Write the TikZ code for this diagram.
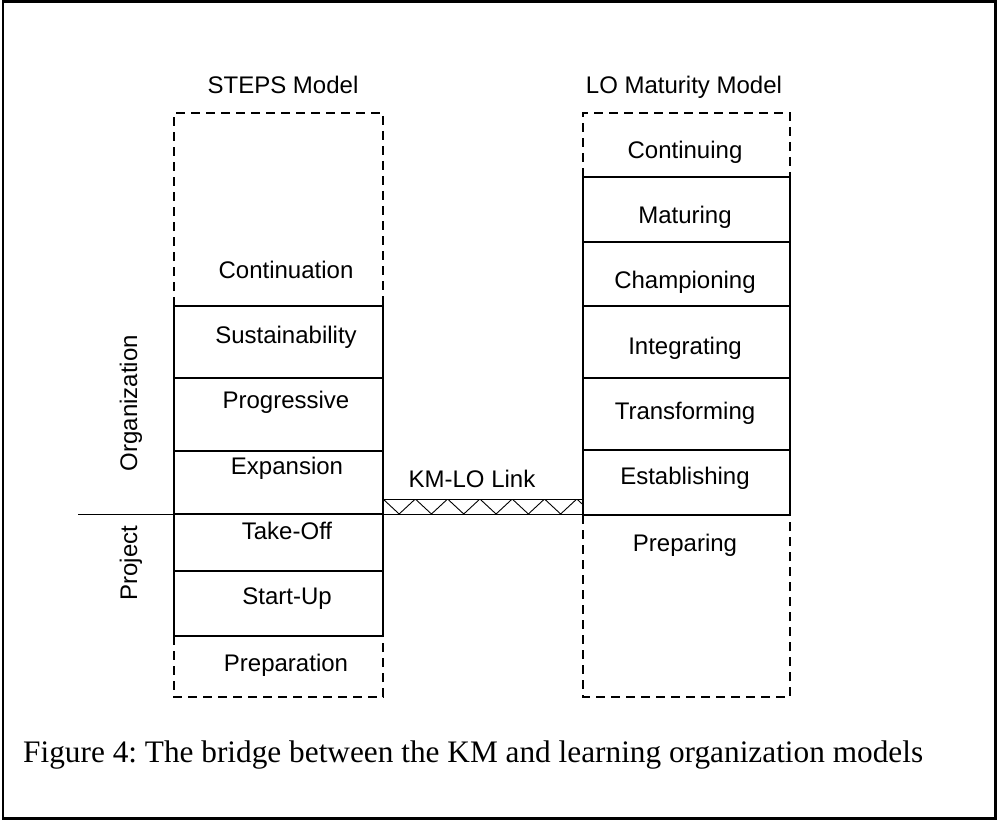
\documentclass[tikz,border=0pt]{standalone}
\usepackage{fontspec}
\setmainfont{Liberation Serif}
\setsansfont{Liberation Sans}
\frenchspacing
\begin{document}
\begin{tikzpicture}[x=1pt,y=-1pt,
  lbl/.style={font=\sffamily\fontsize{24}{28}\selectfont, anchor=base, inner sep=0pt},
  solidline/.style={line width=2.8pt},
  dashline/.style={line width=2.8pt, dash pattern=on 9pt off 6pt},
  thinline/.style={line width=0.9pt}]
\useasboundingbox (0,0) rectangle (998,821);
\draw[line width=2.8pt] (3,1.5) rectangle (995.5,818.5);

% left column (STEPS)
\draw[dashline] (174,306) -- (174,113) -- (383,113) -- (383,306);
\draw[solidline] (174,306) rectangle (383,636);
\foreach \y in {378,451,514,571} \draw[solidline] (174,\y) -- (383,\y);
\draw[dashline] (174,636) -- (174,697) -- (383,697) -- (383,636);

% right column (LO)
\draw[dashline] (583,177) -- (583,113) -- (790,113) -- (790,177);
\draw[solidline] (583,177) rectangle (790,515);
\foreach \y in {242,306,378,450} \draw[solidline] (583,\y) -- (790,\y);
\draw[dashline] (583,515) -- (583,697) -- (790,697) -- (790,515);

% link band
\draw[thinline] (383,499) -- (583,499);
\draw[thinline] (383,514) -- (583,514);
\begin{scope}
  \clip (383,499) rectangle (583,514);
  \draw[thinline] (383,499) \foreach \i in {0,...,6} { -- ({383+32.3*\i+16.15},514) -- ({383+32.3*(\i+1)},499) };
\end{scope}
\draw[thinline] (78,514) -- (174,514);

% labels
\node[lbl] (stepsT) at (283,94) {STEPS Model};
\node[lbl] (loT) at (684,94) {LO Maturity Model};
\node[lbl] (cont) at (286,278) {Continuation};
\node[lbl] (sust) at (286,343) {Sustainability};
\node[lbl] (prog) at (286,408) {Progressive};
\node[lbl] (expa) at (287,474) {Expansion};
\node[lbl] (take) at (287,539) {Take-Off};
\node[lbl] (start) at (287,604) {Start-Up};
\node[lbl] (prep) at (286,671) {Preparation};

\node[lbl] (contg) at (685,159) {Continuing};
\node[lbl] (matu) at (685,223) {Maturing};
\node[lbl] (champ) at (685,288) {Championing};
\node[lbl] (integ) at (685,354) {Integrating};
\node[lbl] (trans) at (685,419) {Transforming};
\node[lbl] (estab) at (685,484) {Establishing};
\node[lbl] (prepg) at (685,551) {Preparing};

\node[lbl] (link) at (472,487) {KM-LO Link};

\node[lbl, rotate=90] (org) at (137,403) {Organization};
\node[lbl, rotate=90] (proj) at (137,563) {Project};

\node[font=\fontsize{31.3}{36}\selectfont, anchor=base west, inner sep=0pt] (cap) at (23,762)
  {Figure 4: The bridge between the KM and learning organization models};
\end{tikzpicture}
\end{document}
